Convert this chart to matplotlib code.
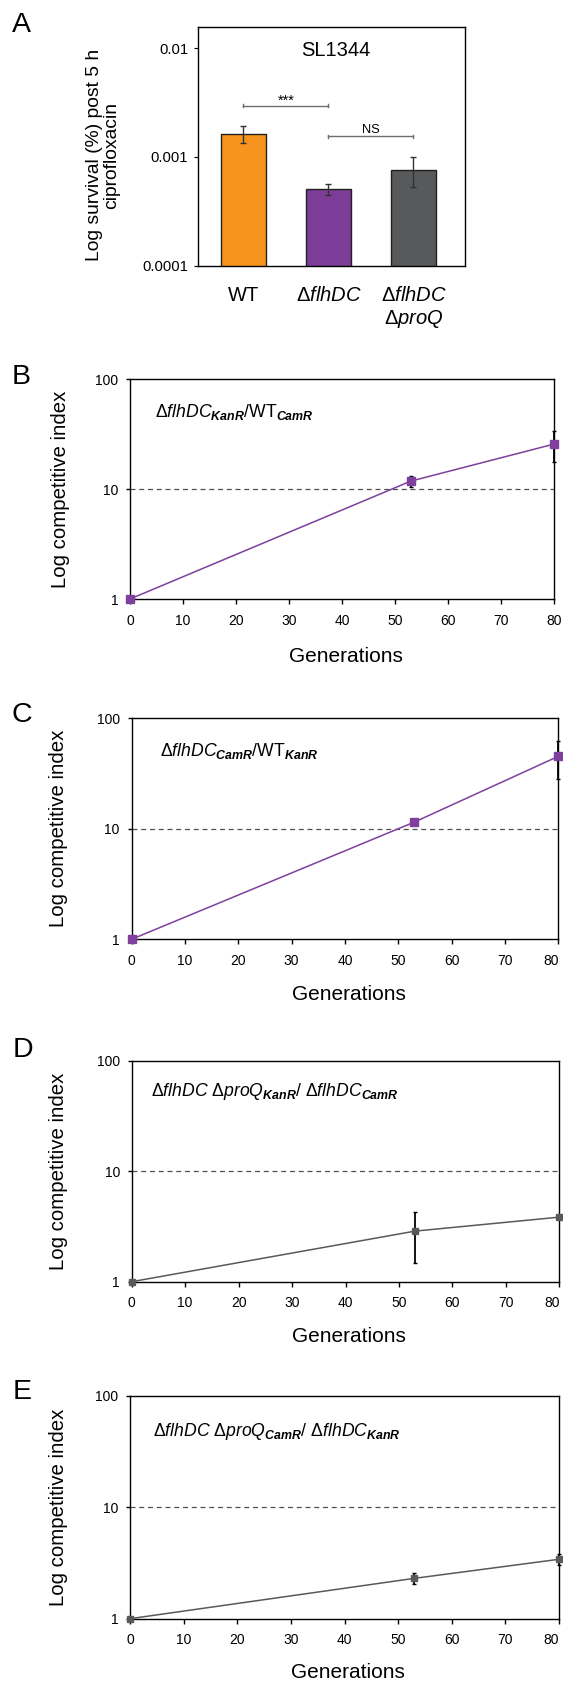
"""
Ciprofloxacin survival (panel A) and competitive index over generations (panels B-E).
"""

import numpy as np
import matplotlib

matplotlib.use("Agg")
import matplotlib.pyplot as plt
from matplotlib.ticker import NullLocator

plt.rcParams["font.family"] = ["Liberation Sans", "DejaVu Sans"]
plt.rcParams["mathtext.fontset"] = "custom"
plt.rcParams["mathtext.rm"] = "Liberation Sans"
plt.rcParams["mathtext.it"] = "Liberation Sans:italic"
plt.rcParams["mathtext.bf"] = "Liberation Sans:bold"
plt.rcParams["mathtext.bfit"] = "Liberation Sans:italic:bold"

# Panel A data
strains = ["WT", "Δ$\\mathit{flhDC}$", "Δ$\\mathit{flhDC}$\nΔ$\\mathit{proQ}$"]
survival = [0.00164, 0.000506, 0.000766]
survival_err = [0.0003, 0.00006, 0.00024]
bar_colours = ["#F7941D", "#7D3C98", "#58595B"]
# (first bar, second bar, bracket level, label)
brackets = [(0, 1, 0.00296, "***"), (1, 2, 0.00155, "NS")]

# Panels B-E data
generations = [0, 53, 80]
ci_b = [1, 11.8, 25.6]
err_b = [0, 1.4, 8.0]
ci_c = [1, 11.5, 45.3]
err_c = [0, 0.5, 17.0]
ci_d = [1, 2.87, 3.84]
err_d = [0, 1.4, 0.12]
ci_e = [1, 2.30, 3.41]
err_e = [0, 0.25, 0.4]

label_b = "Δ$\\mathit{flhDC}_{\\mathbfit{KanR}}$/WT$_{\\mathbfit{CamR}}$"
label_c = "Δ$\\mathit{flhDC}_{\\mathbfit{CamR}}$/WT$_{\\mathbfit{KanR}}$"
label_d = ("Δ$\\mathit{flhDC}$ Δ$\\mathit{proQ}_{\\mathbfit{KanR}}$/ "
           "Δ$\\mathit{flhDC}_{\\mathbfit{CamR}}$")
label_e = ("Δ$\\mathit{flhDC}$ Δ$\\mathit{proQ}_{\\mathbfit{CamR}}$/ "
           "Δ$\\mathit{flhDC}_{\\mathbfit{KanR}}$")

W, H = 563, 1687
fig = plt.figure(figsize=(W / 100, H / 100), dpi=100)


def px_axes(left, top, right, bottom):
    # axes placed from pixel edges of the figure
    ax = fig.add_axes([left / W, 1 - bottom / H, (right - left) / W, (bottom - top) / H])
    for s in ax.spines.values():
        s.set_linewidth(1.0)
    return ax


def panel_letter(x, y, letter):
    fig.text(x / W, 1 - y / H, letter, fontsize=20.5, ha="center", va="center")


# ---- Panel A ----
ax = px_axes(198, 26.7, 465, 265.7)
ax.set_yscale("log")
xpos = np.arange(len(strains))
ax.bar(
    xpos,
    survival,
    width=0.54,
    color=bar_colours,
    edgecolor="#231F20",
    linewidth=1,
    yerr=survival_err,
    error_kw=dict(ecolor="#333333", elinewidth=1, capsize=2.5, capthick=1),
    zorder=2,
)
ax.set_ylim(1e-4, 0.0158)
ax.set_xlim(-0.535, 2.606)
ax.set_yticks([1e-4, 1e-3, 1e-2], ["0.0001", "0.001", "0.01"])
ax.yaxis.set_minor_locator(NullLocator())
ax.tick_params(axis="y", length=3, pad=4, labelsize=10.7)
ax.set_xticks(xpos, strains)
ax.tick_params(axis="x", length=0, pad=14.5, labelsize=14.5)
for lbl in ax.get_xticklabels():
    lbl.set_linespacing(1.22)

for i0, i1, level, mark in brackets:
    ax.plot([i0, i1], [level, level], color="#6D6E71", lw=1)
    for xi in (i0, i1):
        ax.plot([xi, xi], [level / 1.03, level * 1.03], color="#6D6E71", lw=1)
    if mark == "NS":
        ax.annotate(mark, xy=((i0 + i1) / 2, level), xytext=(0, 2.7),
                    textcoords="offset points", ha="center", va="baseline", fontsize=9.3)
    else:
        ax.annotate(mark, xy=((i0 + i1) / 2, level), xytext=(0, 0.5),
                    textcoords="offset points", ha="center", va="baseline", fontsize=10.5)

ax.text(0.516, 0.9025, "SL1344", transform=ax.transAxes, ha="center", va="center",
        fontsize=14.5)
ax.set_ylabel("Log survival (%) post 5 h\nciprofloxacin", fontsize=13.9, linespacing=1.0)
ax.yaxis.label.set_va("center")
ax.yaxis.set_label_coords(-0.357, 0.4625)
panel_letter(21.6, 25, "A")


# ---- Panels B-E ----
def competition_panel(box, letter, letter_xy, ci, err, colour, msize, text, text_xy,
                      xlabel_y, ylabel_x, last_ha="center"):
    ax = px_axes(*box)
    ax.set_yscale("log")
    ax.axhline(10, color="#505050", lw=0.9, ls=(0, (4, 3)), zorder=1)
    eb = ax.errorbar(
        generations,
        ci,
        yerr=err,
        color=colour,
        lw=1.1,
        marker="s",
        ms=msize,
        mfc=colour,
        mec=colour,
        ecolor="black",
        elinewidth=1.3,
        capsize=1.5,
        zorder=3,
    )
    for art in eb.get_children():
        art.set_clip_on(False)
    ax.set_xlim(0, 80)
    ax.set_ylim(1, 100)
    ax.set_xticks(range(0, 81, 10))
    ax.set_yticks([1, 10, 100], ["1", "10", "100"])
    ax.yaxis.set_minor_locator(NullLocator())
    ax.tick_params(axis="x", direction="out", length=3.6, width=1, pad=7, labelsize=10)
    ax.tick_params(axis="y", direction="out", length=3, width=1, pad=5.5, labelsize=10)
    # keep the "80" label inside the figure edge
    ax.get_xticklabels()[-1].set_ha(last_ha)
    ax.set_xlabel("Generations", fontsize=15)
    ax.xaxis.label.set_va("center")
    ax.xaxis.set_label_coords(0.509, xlabel_y)
    ax.set_ylabel("Log competitive index", fontsize=14.7)
    ax.yaxis.label.set_va("center")
    ax.yaxis.set_label_coords(ylabel_x, 0.5)
    ax.text(*text_xy, text, transform=ax.transAxes, ha="left", va="baseline",
            fontsize=12.7)
    panel_letter(*letter_xy, letter)
    return ax


purple = "#7E3F9D"
grey = "#595959"
competition_panel((130, 379, 554, 599), "B", (21.6, 376.7), ci_b, err_b, purple, 5.5,
                  label_b, (0.0587, 0.826), -0.262, -0.165)
competition_panel((131.5, 718.3, 558.4, 939.3), "C", (22.3, 715), ci_c, err_c, purple,
                  5.5, label_c, (0.0675, 0.831), -0.252, -0.17, last_ha="right")
competition_panel((131.7, 1060.7, 559.4, 1281.7), "D", (22.7, 1050), ci_d, err_d, grey,
                  4.2, label_d, (0.044, 0.840), -0.249, -0.172, last_ha="right")
competition_panel((130, 1395.7, 559, 1618.7), "E", (21.7, 1391.7), ci_e, err_e, grey,
                  4.2, label_e, (0.054, 0.819), -0.243, -0.167, last_ha="right")

fig.savefig("out.png", dpi=100)
